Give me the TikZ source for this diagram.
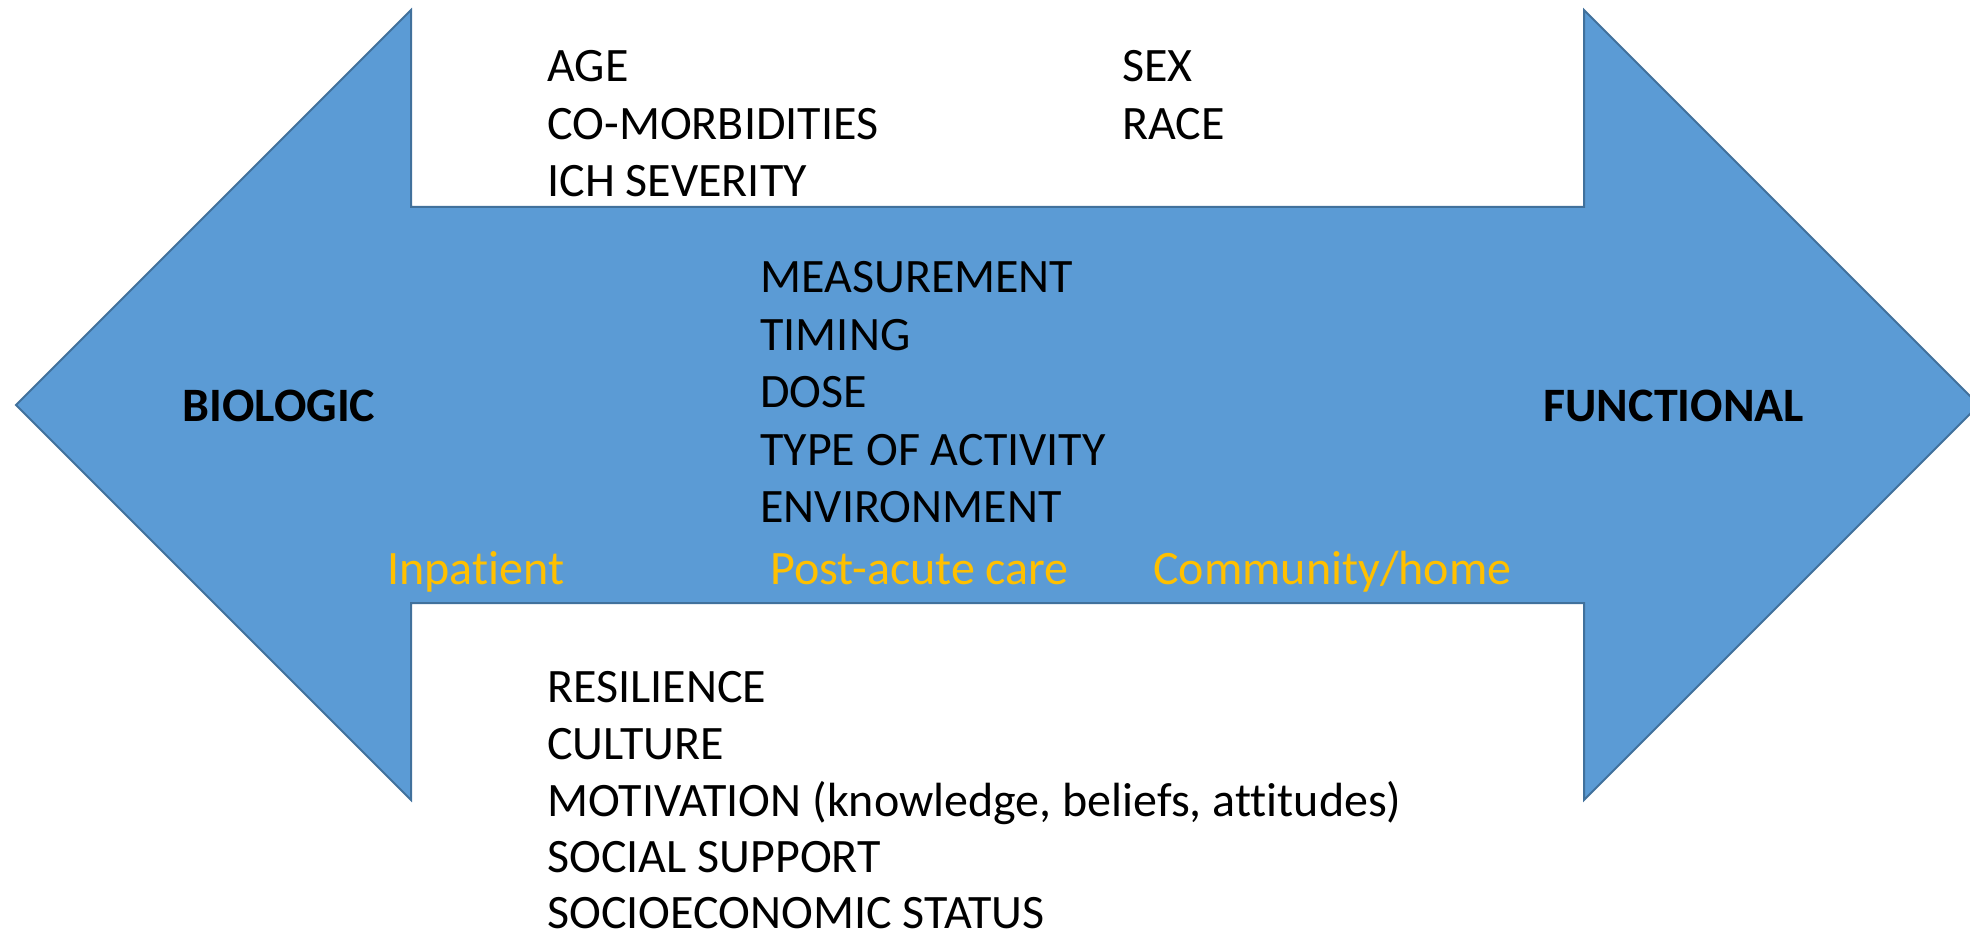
\documentclass[tikz,border=0pt]{standalone}
\usepackage{fontspec}
\setmainfont{Carlito}[Ligatures={NoCommon}]
\definecolor{arrowfill}{HTML}{5B9BD5}
\definecolor{arrowedge}{HTML}{41719C}
\definecolor{settingtext}{HTML}{FFC000}
\begin{document}
\begin{tikzpicture}[x=0.5pt,y=-0.5pt,
  label/.style={anchor=base west,inner sep=0pt,font=\fontsize{24}{28.5}\selectfont},
  endlabel/.style={label,font=\fontsize{24}{28.5}\selectfont\bfseries},
  setting/.style={label,text=settingtext}]
\useasboundingbox (0,0) rectangle (1970,935);
\clip (0,0) rectangle (1970,935);
% double-headed block arrow
\draw[fill=arrowfill,draw=arrowedge,line width=1pt,line join=miter]
  (16,405) -- (411,10) -- (411,207) -- (1584,207) -- (1584,10) -- (1979,405)
  -- (1584,800) -- (1584,603) -- (411,603) -- (411,800) -- cycle;
% upper factors
\node[label] (age)  at (547,82)  {AGE};
\node[label] (com)  at (547,139.5) {CO-MORBIDITIES};
\node[label] (ich)  at (547,197) {ICH SEVERITY};
\node[label] (sex)  at (1122,82) {SEX};
\node[label] (race) at (1122,139.5) {RACE};
% intervention factors
\node[label] (meas) at (760,293) {MEASUREMENT};
\node[label] (tim)  at (760,350.5) {TIMING};
\node[label] (dose) at (760,408) {DOSE};
\node[label] (type) at (760,465.5) {TYPE OF ACTIVITY};
\node[label] (env)  at (760,523) {ENVIRONMENT};
% ends of the arrow
\node[endlabel] (bio)  at (182,422) {BIOLOGIC};
\node[endlabel] (func) at (1543,422) {FUNCTIONAL};
% care settings
\node[setting] (inp)  at (387,584) {Inpatient};
\node[setting] (post) at (770,584) {Post-acute care};
\node[setting] (comm) at (1153,584) {Community/home};
% lower factors
\node[label] (res)  at (547,702) {RESILIENCE};
\node[label] (cul)  at (547,759) {CULTURE};
\node[label] (mot)  at (547,816) {MOTIVATION (knowledge, beliefs, attitudes)};
\node[label] (soc)  at (547,872) {SOCIAL SUPPORT};
\node[label] (ses)  at (547,928) {SOCIOECONOMIC STATUS};
\end{tikzpicture}
\end{document}
